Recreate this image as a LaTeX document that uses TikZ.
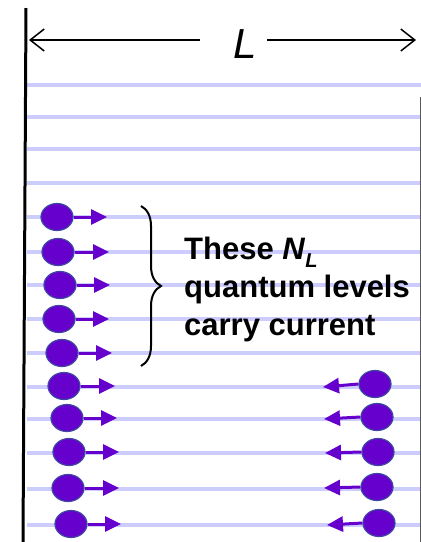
\documentclass[tikz,border=0pt]{standalone}
\usepackage{fontspec}
\setmainfont{Liberation Sans}
\usetikzlibrary{arrows.meta,shapes.geometric,decorations.pathreplacing}
\definecolor{lev}{RGB}{204,204,255}
\definecolor{purp}{RGB}{102,0,204}
\definecolor{dotedge}{RGB}{63,72,160}
\tikzset{
  level/.style={lev,line width=4pt},
  dot/.style={ellipse,fill=purp,draw=dotedge,line width=1.2pt,minimum width=32pt,minimum height=27pt,inner sep=0pt},
  parrow/.style={purp,line width=3pt,-{Triangle[length=16pt,width=15pt]}},
  dimarrow/.style={black,line width=1.5pt,-{Straight Barb[length=14pt,width=22pt]}},
  lbl/.style={font=\bfseries\fontsize{31}{36}\selectfont,anchor=base west,inner sep=0pt}
}
\begin{document}
\begin{tikzpicture}[x=1pt,y=-1pt]
\useasboundingbox (0,0) rectangle (421,542);
% levels
\foreach \yy in {85,117,149,183,217,252,285,319,353,387,419,453,489,525}
  \draw[level] (27,\yy) -- (421,\yy);
% walls
\draw[black,line width=3pt] (26,8) -- (23,542);
\draw[gray!70!black,line width=1pt] (420,97) -- (420,542);
% L dimension
\node[font=\itshape\fontsize{42}{42}\selectfont,inner sep=0pt] (Lab) at (245,44) {L};
\coordinate (la) at (200,40);
\coordinate (lb) at (267,40);
\coordinate (lw) at (29,40);
\coordinate (le) at (416,40);
\draw[dimarrow] (la) -- (lw);
\draw[dimarrow] (lb) -- (le);
% left dots moving right
\foreach \n/\xx/\yy/\tx in {5/57/217/107, 6/58/252/109, 7/60/285/110, 8/59/319/109, 9/62/353/112,
                         10/64/386/115, 11/67/418/117, 12/69/452/119, 13/68/488/119, 14/71/524/121}{
  \node[dot] (l\n) at (\xx,\yy) {};
  \coordinate (ta\n) at (\tx,\yy);
  \draw[parrow] (l\n.east) -- (ta\n);
}
% right dots moving left
\foreach \n/\xx/\yy/\tx/\ty in {10/375/384/323/387, 11/377/417/324/419, 12/378/452/325/453, 13/377/487/324/488, 14/379/523/327/525}{
  \node[dot] (r\n) at (\xx,\yy) {};
  \coordinate (tb\n) at (\tx,\ty);
  \draw[parrow] (r\n.west) -- (tb\n);
}
% brace
\coordinate (bt) at (141,206);
\coordinate (bb) at (141,366);
\draw[black,line width=2pt,decorate,decoration={brace,amplitude=20pt}] (bt) -- (bb);
% text
\node[lbl] (t1) at (184,259) {These \textit{N}\raisebox{-0.28em}{\fontsize{20}{20}\selectfont\textit{L}}};
\node[lbl] (t2) at (184,297) {quantum levels};
\node[lbl] (t3) at (184,335) {carry current};
\end{tikzpicture}
\end{document}
